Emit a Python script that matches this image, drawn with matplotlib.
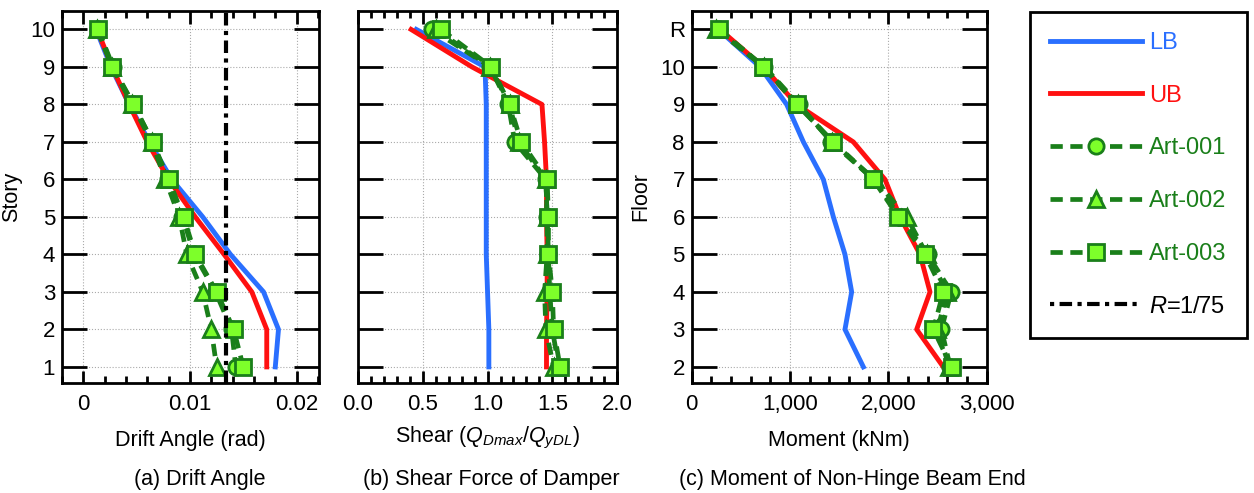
import matplotlib
matplotlib.use("Agg")
import matplotlib.pyplot as plt
from matplotlib.ticker import MultipleLocator, FuncFormatter, FixedLocator
from matplotlib.lines import Line2D

plt.rcParams['font.family'] = ['Liberation Sans', 'DejaVu Sans']
plt.rcParams['mathtext.fontset'] = 'custom'
plt.rcParams['mathtext.rm'] = 'Liberation Sans'
plt.rcParams['mathtext.it'] = 'Liberation Sans:italic'

stories = [10, 9, 8, 7, 6, 5, 4, 3, 2, 1]
floors = [11, 10, 9, 8, 7, 6, 5, 4, 3, 2]
floor_labels = ['2', '3', '4', '5', '6', '7', '8', '9', '10', 'R']

# (a) drift angle (rad)
drift_lb = [0.0012, 0.0026, 0.0043, 0.0062, 0.0083, 0.0112, 0.0138, 0.0169, 0.0183, 0.0180]
drift_ub = [0.0013, 0.0027, 0.0043, 0.0060, 0.0080, 0.0105, 0.0132, 0.0158, 0.0172, 0.0172]
drift_a1 = [0.0014, 0.0028, 0.0047, 0.0065, 0.0079, 0.0093, 0.0104, 0.0124, 0.0139, 0.0143]
drift_a2 = [0.0013, 0.0027, 0.0046, 0.0064, 0.0077, 0.0090, 0.0097, 0.0112, 0.0120, 0.0125]
drift_a3 = [0.0014, 0.0027, 0.0047, 0.0065, 0.0080, 0.0094, 0.0105, 0.0125, 0.0141, 0.0150]
drift_limit = 1 / 75

# (b) shear force of damper
shear_lb = [0.45, 0.98, 0.99, 0.99, 0.99, 0.99, 0.99, 1.00, 1.01, 1.01]
shear_ub = [0.41, 0.88, 1.42, 1.44, 1.455, 1.455, 1.46, 1.46, 1.455, 1.455]
shear_a1 = [0.57, 1.02, 1.16, 1.21, 1.45, 1.46, 1.47, 1.48, 1.50, 1.55]
shear_a2 = [0.60, 1.02, 1.17, 1.24, 1.45, 1.46, 1.46, 1.44, 1.45, 1.51]
shear_a3 = [0.64, 1.03, 1.17, 1.26, 1.46, 1.47, 1.47, 1.50, 1.51, 1.56]

# (c) moment of non-hinge beam end (kNm)
mom_lb = [271, 695, 966, 1136, 1339, 1441, 1559, 1627, 1559, 1746]
mom_ub = [288, 729, 1068, 1644, 1966, 2119, 2322, 2424, 2288, 2559]
mom_a1 = [275, 740, 1090, 1420, 1850, 2120, 2400, 2640, 2540, 2630]
mom_a2 = [250, 735, 1080, 1430, 1860, 2186, 2390, 2600, 2500, 2620]
mom_a3 = [281, 729, 1068, 1441, 1847, 2102, 2373, 2559, 2458, 2644]

BLUE = '#2a6fff'
RED = '#ff1010'
DGREEN = '#1a7f1a'
LGREEN = '#7dff2a'

fig = plt.figure(figsize=(12.54, 4.93), dpi=100)
ax_a = fig.add_axes([0.0494, 0.2238, 0.2050, 0.7545])
ax_b = fig.add_axes([0.2855, 0.2238, 0.2066, 0.7545])
ax_c = fig.add_axes([0.5516, 0.2238, 0.2352, 0.7545])


def art_kw(marker):
    return dict(color=DGREEN, lw=3.4, dashes=(2.6, 1.6), marker=marker, ms=11,
                mfc=LGREEN, mec=DGREEN, mew=2)


def draw(ax, y, lb, ub, a1, a2, a3):
    ax.plot(lb, y, color=BLUE, lw=3.5, zorder=2)
    ax.plot(ub, y, color=RED, lw=3.5, zorder=2)
    ax.plot(a1, y, zorder=3, **art_kw('o'))
    ax.plot(a2, y, zorder=3, **art_kw('^'))
    ax.plot(a3, y, zorder=3, **art_kw('s'))


def style(ax):
    ax.grid(True, which='major', color='#aaaaaa', ls=':', lw=0.8)
    ax.tick_params(which='both', direction='in', top=True, right=True,
                   labelsize=16, width=2)
    ax.tick_params(axis='x', pad=8)
    ax.tick_params(axis='y', pad=5)
    ax.tick_params(which='major', length=9)
    ax.tick_params(which='minor', length=5)
    ax.tick_params(axis='y', which='major', length=18)
    for s in ax.spines.values():
        s.set_linewidth(2)


draw(ax_a, stories, drift_lb, drift_ub, drift_a1, drift_a2, drift_a3)
ax_a.axvline(drift_limit, color='black', lw=3, dashes=(3, 1.3, 1, 1.3), zorder=4)
ax_a.set_xlim(-0.002, 0.0221)
ax_a.set_ylim(0.58, 10.5)
ax_a.xaxis.set_major_locator(FixedLocator([0, 0.01, 0.02]))
ax_a.xaxis.set_minor_locator(MultipleLocator(0.002))
ax_a.xaxis.set_major_formatter(FuncFormatter(lambda v, p: '0' if v == 0 else f'{v:g}'))
ax_a.yaxis.set_major_locator(MultipleLocator(1))
ax_a.set_ylabel('Story', fontsize=15.5, labelpad=6)
ax_a.set_xlabel('Drift Angle (rad)', fontsize=15.5, labelpad=11)
style(ax_a)

draw(ax_b, stories, shear_lb, shear_ub, shear_a1, shear_a2, shear_a3)
ax_b.set_xlim(0, 2.0)
ax_b.set_ylim(0.58, 10.5)
ax_b.xaxis.set_major_locator(MultipleLocator(0.5))
ax_b.xaxis.set_minor_locator(MultipleLocator(0.1))
ax_b.xaxis.set_major_formatter(FuncFormatter(lambda v, p: f'{v:.1f}'))
ax_b.yaxis.set_major_locator(MultipleLocator(1))
ax_b.set_yticklabels([])
ax_b.set_xlabel('Shear ($Q_{Dmax}$/$Q_{yDL}$)', fontsize=15.5, labelpad=7)
style(ax_b)

draw(ax_c, floors, mom_lb, mom_ub, mom_a1, mom_a2, mom_a3)
ax_c.set_xlim(0, 3000)
ax_c.set_ylim(1.58, 11.5)
ax_c.xaxis.set_major_locator(MultipleLocator(1000))
ax_c.xaxis.set_minor_locator(MultipleLocator(200))
ax_c.xaxis.set_major_formatter(FuncFormatter(lambda v, p: f'{int(v):,}'))
ax_c.set_yticks(range(2, 12))
ax_c.set_yticklabels(floor_labels)
ax_c.set_ylabel('Floor', fontsize=15.5, labelpad=6)
ax_c.set_xlabel('Moment (kNm)', fontsize=15.5, labelpad=11)
style(ax_c)

fig.text(0.159, 0.016, '(a) Drift Angle', ha='center', fontsize=15.5)
fig.text(0.392, 0.016, '(b) Shear Force of Damper', ha='center', fontsize=15.5)
fig.text(0.680, 0.016, '(c) Moment of Non-Hinge Beam End', ha='center', fontsize=15.5)

handles = [
    Line2D([], [], color=BLUE, lw=3.5),
    Line2D([], [], color=RED, lw=3.5),
    Line2D([], [], **art_kw('o')),
    Line2D([], [], **art_kw('^')),
    Line2D([], [], **art_kw('s')),
    Line2D([], [], color='black', lw=3, dashes=(1, 1.3, 3, 1.3)),
]
labels = ['LB', 'UB', 'Art-001', 'Art-002', 'Art-003', '$R$=1/75']
leg = fig.legend(handles, labels, loc='upper left', bbox_to_anchor=(0.8214, 0.9757),
                 fontsize=17, labelspacing=1.3, handlelength=3.9, handletextpad=0.3,
                 numpoints=1, fancybox=False, edgecolor='black', framealpha=1,
                 borderpad=0.85, borderaxespad=0,
                 labelcolor=[BLUE, RED, DGREEN, DGREEN, DGREEN, 'black'])
leg.get_frame().set_linewidth(2)

fig.savefig('out.png', dpi=100)
